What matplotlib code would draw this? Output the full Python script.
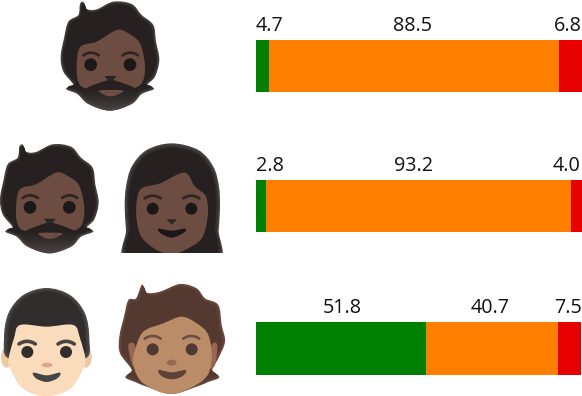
import numpy as np
import matplotlib
matplotlib.use('Agg')
import matplotlib.pyplot as plt
from matplotlib.colors import to_rgb
from matplotlib.path import Path
from matplotlib.patches import PathPatch, Circle, Ellipse

# printed values, percent
verde = [4.7, 2.8, 51.8]
laranja = [88.5, 93.2, 40.7]
vermelho = [6.8, 4.0, 7.5]

# widths of the bars as they are drawn in the picture, percent
larg_verde = [4.0, 3.1, 52.1]
larg_laranja = [89.2, 93.8, 40.6]
larg_vermelho = [6.8, 3.1, 7.3]

plt.rcParams['font.family'] = ['Open Sans', 'DejaVu Sans']

fig = plt.figure(figsize=(5.82, 3.96), dpi=100)

# canvas in the pixels of the 3x zoomed picture, for the drawn faces
tela = fig.add_axes([0, 0, 1, 1])
tela.axis('off')


def suave(pts):
    # closed smooth curve through the points
    p = np.array(pts, dtype=float)
    n = len(p)
    verts = [p[0]]
    codes = [Path.MOVETO]
    for i in range(n):
        p0, p1, p2, p3 = p[i - 1], p[i], p[(i + 1) % n], p[(i + 2) % n]
        verts += [p1 + (p2 - p0) / 6, p2 - (p3 - p1) / 6, p2]
        codes += [Path.CURVE4] * 3
    return Path(verts, codes)


def forma(pts, cor, z=2, dx=0, dy=0, esc=1.0):
    p = np.array(pts, dtype=float)
    c = p.mean(axis=0)
    p = c + (p - c) * esc + [dx, dy]
    tela.add_patch(PathPatch(suave(p), fc=cor, ec='none', zorder=z))


def degrade(pts, borda, miolo, passo, z=2, dx=0, dy=0, n=6):
    # soft rim: the same outline shrunk step by step
    a, b = np.array(to_rgb(borda)), np.array(to_rgb(miolo))
    for i in range(n):
        forma(pts, tuple(a + (b - a) * i / (n - 1)), z + i * 0.01, dx, dy, 1 - passo * i)


def poligono(pts, cor, z=2):
    tela.fill([a[0] for a in pts], [a[1] for a in pts], color=cor, lw=0, zorder=z)


def sobrancelha(x0, x1, y, cor, lw=1.9, dx=0, dy=0, z=5):
    xs = np.linspace(x0, x1, 12) + dx
    t = np.linspace(-1, 1, 12)
    tela.plot(xs, y + 8 * t ** 2 + dy, color=cor, lw=lw, solid_capstyle='round', zorder=z)


def olho(x, y, r, cor, z=5):
    tela.add_patch(Circle((x, y), r, fc=cor, ec='none', zorder=z))


def barbudo(dx, dy):
    cabelo = [(240, 12), (250, 6), (260, 27), (290, 28), (340, 5), (395, 12), (425, 45), (460, 75),
              (468, 125), (478, 180), (465, 230), (442, 255), (462, 267), (425, 282), (395, 312),
              (330, 332), (265, 312), (232, 282), (198, 267), (220, 255), (190, 215), (182, 170),
              (192, 115), (205, 65), (235, 45)]
    degrade(cabelo, '#4a4542', '#262120', 0.012, 2, dx, dy)
    # beard gets lighter towards the chin
    p = np.array(cabelo, dtype=float) + [dx, dy]
    grad = np.zeros((40, 2, 4))
    grad[:, :, :3] = to_rgb('#4a4442')
    grad[:, :, 3] = np.linspace(0, 1, 40)[:, None] ** 1.3
    im = tela.imshow(grad, extent=(150 + dx, 510 + dx, 335 + dy, 262 + dy), aspect='auto', zorder=2.5,
                     interpolation='bilinear')
    im.set_clip_path(PathPatch(suave(p), transform=tela.transData))
    rosto = [(240, 142), (290, 125), (350, 90), (385, 100), (420, 130), (435, 200), (425, 250), (390, 264),
             (332, 240), (272, 264), (240, 255), (230, 210)]
    forma(rosto, '#6d4c41', 4, dx, dy)
    bigode = [(262, 264), (300, 248), (332, 240), (365, 248), (402, 264), (370, 270), (332, 268), (295, 270)]
    forma(bigode, '#262120', 5, dx, dy)
    forma([(297, 272), (332, 270), (370, 272), (350, 285), (332, 289), (314, 285)], '#6d4c41', 6, dx, dy)
    sobrancelha(250, 296, 158, '#2b2524', dx=dx, dy=dy)
    sobrancelha(368, 414, 158, '#2b2524', dx=dx, dy=dy)
    olho(272 + dx, 194 + dy, 19, '#1c1817')
    olho(390 + dx, 194 + dy, 19, '#1c1817')
    poligono([(314 + dx, 228 + dy), (349 + dx, 228 + dy), (340 + dx, 241 + dy), (323 + dx, 241 + dy)], '#2b2524', 6)


def mulher():
    borda = [(374, 620), (378, 560), (395, 500), (440, 450), (515, 430), (595, 450), (640, 500), (657, 560),
             (660, 620), (656, 690), (646, 790), (385, 790), (378, 690)]
    degrade(borda, '#4a4442', '#262120', 0.018, 2)
    rosto = [(410, 605), (425, 565), (480, 550), (553, 518), (585, 560), (618, 590), (623, 650), (605, 715),
             (555, 750), (515, 762), (470, 750), (425, 712), (410, 660)]
    forma(rosto, '#6d4c41', 4)
    # the picture ends flat below the hair
    poligono([(360, 759), (680, 759), (680, 835), (360, 835)], 'white', 1.9 + 5.2)
    sobrancelha(434, 482, 587, '#2b2524')
    sobrancelha(550, 598, 587, '#2b2524')
    olho(458, 626, 18, '#1c1817')
    olho(574, 626, 18, '#1c1817')
    poligono([(500, 658), (531, 658), (515, 674)], '#2b2524', 6)
    forma([(476, 686), (515, 692), (555, 686), (552, 698), (515, 713), (482, 700)], '#1c1817', 6)


def homem():
    o = 810
    tela.add_patch(Ellipse((20, 262 + o), 34, 62, fc='#edc8a3', ec='none', zorder=8))
    tela.add_patch(Ellipse((258, 262 + o), 34, 62, fc='#edc8a3', ec='none', zorder=8))
    cab = [(12, 205), (25, 130), (70, 75), (140, 54), (210, 75), (255, 130), (268, 205), (256, 265),
           (140, 250), (26, 265)]
    degrade([(x, y + o) for x, y in cab], '#4f4d4b', '#312d2d', 0.02, 9)
    rosto = [(26, 265), (42, 205), (60, 165), (140, 170), (220, 165), (240, 205), (256, 265), (250, 295),
             (212, 355), (140, 379), (68, 355), (30, 295)]
    forma([(x, y + o) for x, y in rosto], '#fadcbc', 10)
    sobrancelha(57, 106, 214 + o, '#4a4543', lw=2.6, z=11)
    sobrancelha(174, 223, 214 + o, '#4a4543', lw=2.6, z=11)
    olho(82, 246 + o, 18, '#312d2d', z=11)
    olho(198, 246 + o, 18, '#312d2d', z=11)
    tela.add_patch(Ellipse((141, 285 + o), 33, 14, fc='#dba689', ec='none', zorder=11))
    forma([(x, y + o) for x, y in [(100, 308), (140, 316), (180, 308), (172, 325), (140, 336), (108, 325)]],
          '#444444', 11)


def pessoa():
    o = 810
    cabelo = [(408, 85), (426, 44), (440, 68), (480, 65), (540, 42), (590, 55), (615, 85), (655, 105),
              (665, 165), (675, 215), (655, 265), (637, 300), (658, 322), (625, 336), (590, 350), (515, 372),
              (440, 350), (405, 336), (376, 322), (395, 300), (360, 250), (358, 200), (372, 140), (385, 90)]
    degrade([(x, y + o) for x, y in cabelo], '#6d4c41', '#543930', 0.012, 8)
    forma([(x, y + o) for x, y in [(385, 225), (405, 225), (410, 290), (395, 280)]], '#99674f', 9)
    forma([(x, y + o) for x, y in [(635, 225), (652, 225), (645, 285), (630, 290)]], '#99674f', 9)
    rosto = [(405, 240), (430, 185), (490, 160), (545, 140), (590, 160), (625, 195), (635, 270), (610, 330),
             (515, 372), (430, 340), (400, 285)]
    forma([(x, y + o) for x, y in rosto], '#ba8d68', 10)
    sobrancelha(434, 482, 198 + o, '#6d4c41', z=11)
    sobrancelha(550, 598, 198 + o, '#6d4c41', z=11)
    olho(458, 238 + o, 18, '#4e3a32', z=11)
    olho(575, 238 + o, 18, '#4e3a32', z=11)
    tela.add_patch(Ellipse((515, 278 + o), 30, 18, fc='#99674f', ec='none', zorder=11))
    forma([(x, y + o) for x, y in [(476, 300), (515, 307), (557, 300), (548, 318), (515, 328), (484, 318)]],
          '#5d4037', 11)


barbudo(0, 0)
barbudo(-182, 428)
mulher()
homem()
pessoa()
tela.set_xlim(0, 582 * 3)
tela.set_ylim(396 * 3, 0)

# bar rows in figure pixels: top, bottom, baseline of the labels
linhas = [(40, 92, 30.7), (180, 232, 171), (322, 375, 313)]
pos_rotulos = [(4.3, 48.1, 95.8), (4.3, 48.5, 95.5), (26.5, 71.9, 95.7)]
cores = ['#008000', '#ff8000', '#e60000']
x0, x1 = 256, 581.5
for i, (topo, fundo, base) in enumerate(linhas):
    ax = fig.add_axes([x0 / 582, 1 - fundo / 396, (x1 - x0) / 582, (fundo - topo) / 396])
    ax.set_xlim(0, 100)
    ax.set_ylim(0, 1)
    ax.axis('off')
    esquerda = 0
    larguras = (larg_verde[i], larg_laranja[i], larg_vermelho[i])
    for largura, cor in zip(larguras, cores):
        ax.barh(0.5, largura, 1, left=esquerda, color=cor, lw=0)
        esquerda += largura
    for valor, xr in zip((verde[i], laranja[i], vermelho[i]), pos_rotulos[i]):
        ax.text(xr, (fundo - base) / (fundo - topo), f'{valor:.1f}', ha='center', va='baseline',
                fontsize=14.2, color='#111111', clip_on=False)

fig.savefig('out.png', dpi=100)
